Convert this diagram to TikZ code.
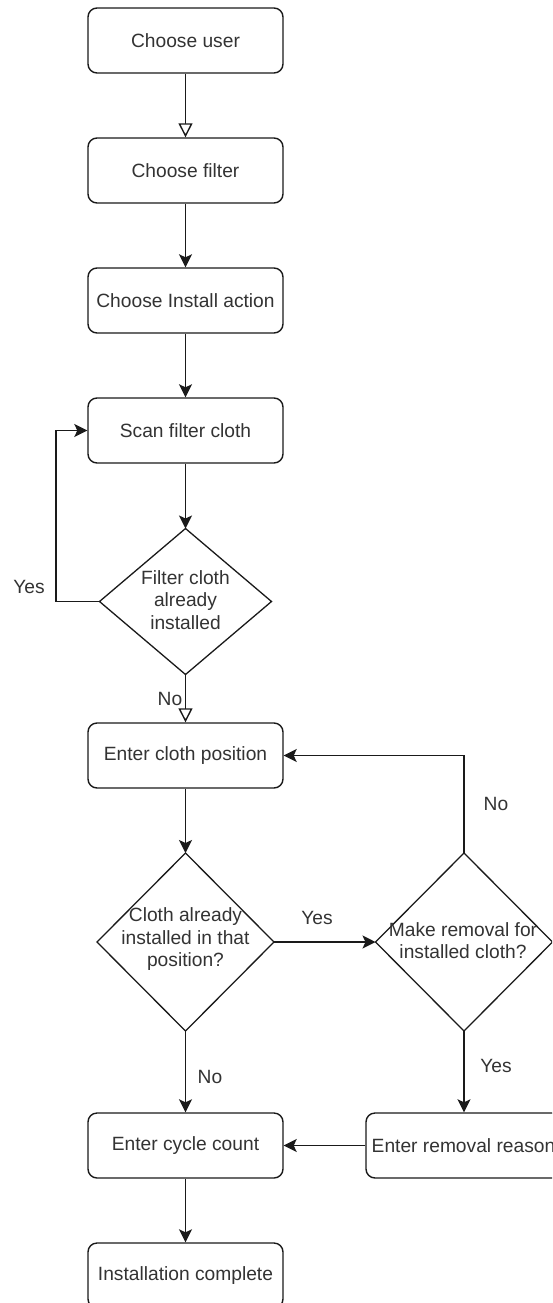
\documentclass[tikz,border=0pt]{standalone}
\usepackage{fontspec}
\setmainfont{Liberation Sans}
\usetikzlibrary{arrows.meta, shapes.geometric}
\definecolor{ln}{HTML}{1A1A1A}
\definecolor{txt}{HTML}{333333}
\begin{document}
\begin{tikzpicture}[x=1pt, y=-1pt,
  every node/.style={font=\fontsize{19.2}{22.5}\selectfont, text=txt},
  stepbox/.style={draw=ln, line width=1.4pt, rounded corners=9pt, fill=white,
    minimum width=195pt, minimum height=65pt, inner sep=0pt},
  decision/.style={draw=ln, line width=1.3pt, diamond, fill=white,
    inner sep=0pt, outer sep=0pt},
  dtext/.style={align=center, inner sep=0pt},
  lbl/.style={inner sep=0pt},
  flow/.style={draw=ln, line width=1.5pt,
    -{Stealth[length=13pt, width=13pt, inset=3pt]}},
  openflow/.style={draw=ln, line width=1.4pt,
    -{Triangle[length=14pt, width=14pt, fill=white]}}]

\useasboundingbox (0,0) rectangle (552,1303);
\clip (0,0) rectangle (552,1303);

% main column of steps
\node[stepbox] (user)    at (185.5,40.5)  {Choose user};
\node[stepbox] (filter)  at (185.5,170.5) {Choose filter};
\node[stepbox] (action)  at (185.5,300.5) {Choose Install action};
\node[stepbox] (scan)    at (185.5,430.5) {Scan filter cloth};
\node[stepbox] (pos)     at (185.5,755.5) {Enter cloth position};
\node[stepbox] (cycle)   at (185.5,1145.5) {Enter cycle count};
\node[stepbox] (done)    at (185.5,1275.5) {Installation complete};
\node[stepbox] (reason)  at (463.5,1145.5) {Enter removal reason};

% decisions
\node[decision, minimum width=172pt, minimum height=146pt] (d1) at (185.5,601.5) {};
\node[dtext] (d1t) at (185.5,600) {Filter cloth\\already\\installed};

\node[decision, minimum width=177pt, minimum height=178pt] (d2) at (185.5,942) {};
\node[dtext] (d2t) at (185.5,939.5) {Cloth already\\installed in that\\position?};

\node[decision, minimum width=177pt, minimum height=178pt] (d3) at (464,942) {};
\node[dtext] (d3t) at (463,940.5) {Make removal for\\installed cloth?};

% branch labels
\node[lbl] (yes1) at (29,587)   {Yes};
\node[lbl] (no1)  at (170,699)  {No};
\node[lbl] (yes2) at (317,918)  {Yes};
\node[lbl] (no2)  at (496,804)  {No};
\node[lbl] (no3)  at (210,1077) {No};
\node[lbl] (yes3) at (496,1066) {Yes};

% bend of the rescan loop
\coordinate (loopbend) at (56,601.5);

% connectors
\draw[openflow] (user) -- (filter);
\draw[flow] (filter) -- (action);
\draw[flow] (action) -- (scan);
\draw[flow] (scan) -- (d1.north);
\draw[flow] (d1.west) -- (loopbend) |- (scan.west);
\draw[openflow] (d1.south) -- (pos.north);
\draw[flow] (pos) -- (d2.north);
\draw[flow] (d2.east) -- (d3.west);
\draw[flow] (d3.north) |- (pos.east);
\draw[flow] (d2.south) -- (cycle.north);
\draw[flow] (d3.south) -- (reason.north -| d3.south);
\draw[flow] (reason.west) -- (cycle.east);
\draw[flow] (cycle) -- (done);
\end{tikzpicture}
\end{document}
